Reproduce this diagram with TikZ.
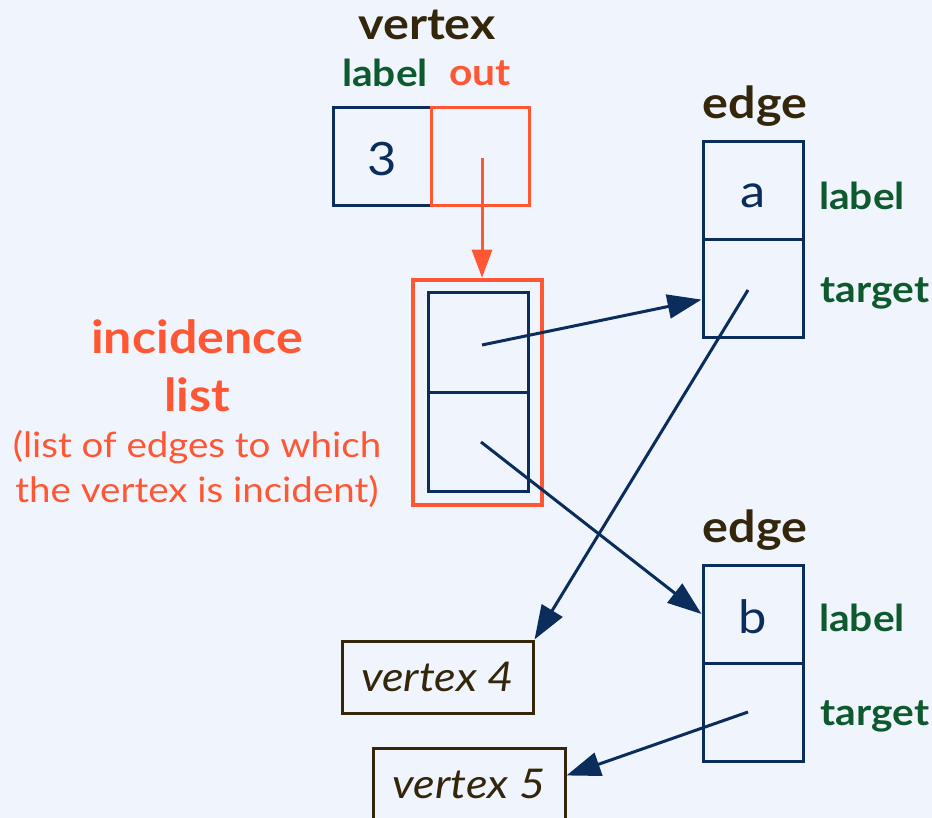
\documentclass[tikz,border=0pt]{standalone}
\usepackage{fontspec}
\setmainfont{Lato}[FakeStretch=1.1]
\usetikzlibrary{arrows.meta,calc}
\definecolor{bg}{HTML}{F0F5FD}
\definecolor{navy}{HTML}{0B2D5B}
\definecolor{orng}{HTML}{FF5733}
\definecolor{grn}{HTML}{0E5A2E}
\definecolor{brn}{HTML}{33260A}
\tikzset{
  cell/.style={draw=navy, line width=3pt, minimum width=98pt, minimum height=98pt,
    inner sep=0pt, text=navy, font=\fontsize{46}{50}\selectfont},
  ocell/.style={cell, draw=orng},
  vbox/.style={draw=brn, line width=3pt, minimum width=191pt, minimum height=72pt,
    inner sep=0pt, text=brn, font=\fontsize{41}{44}\selectfont\itshape},
  title/.style={text=brn, font=\fontsize{44}{46}\selectfont\bfseries},
  fld/.style={text=grn, font=\fontsize{37}{40}\selectfont\bfseries},
  nv/.style={draw=navy, line width=3pt, -{Triangle[length=34pt,width=24pt]}},
  ov/.style={draw=orng, line width=3pt, -{Triangle[length=28pt,width=20pt]}},
}
\begin{document}
\begin{tikzpicture}[x=1pt,y=-1pt]
\fill[bg] (0,0) rectangle (932,818);
\useasboundingbox (0,0) rectangle (932,818);
\clip (0,0) rectangle (932,818);

% vertex record
\node[title] (vt) at (427,25) {vertex};
\node[fld] (vlab) at (385,73) {label};
\node[fld, text=orng] (vout) at (480,73) {out};
\node[cell, text height=38pt, text depth=0pt] (vl) at (382,157) {3};
\node[ocell] (vo) at (480,157) {};
\coordinate (vodot) at (482,158);

% incidence list
\node[draw=orng, line width=4.5pt, minimum width=129pt, minimum height=225pt, inner sep=0pt] (inc) at (477.5,392.5) {};
\node[cell, minimum width=100pt, minimum height=99pt] (l1) at (478,342.5) {};
\node[cell, minimum width=100pt, minimum height=99pt] (l2) at (478,441.5) {};
\coordinate (l1dot) at (482,345);
\coordinate (l2dot) at (481,442);

\node[text=orng, font=\fontsize{45.5}{48}\selectfont\bfseries] (incl) at (197,337) {incidence};
\node[text=orng, font=\fontsize{45.5}{48}\selectfont\bfseries] (incl2) at (197,395) {list};
\node[text=orng, font=\fontsize{35}{38}\selectfont] (incp1) at (197,447) {(list of edges to which};
\node[text=orng, font=\fontsize{35}{38}\selectfont] (incp2) at (197,491) {the vertex is incident)};

% edge a
\node[title] (et1) at (755,106) {edge};
\node[cell, minimum width=100pt, text height=34pt, text depth=0pt] (ea1) at (753,191) {a};
\node[cell, minimum width=100pt] (ea2) at (753,289) {};
\node[fld] (eal) at (862,196) {label};
\node[fld] (eat) at (875,293) {target};
\coordinate (ea2dot) at (748,290);

% edge b
\node[title] (et2) at (755,530) {edge};
\node[cell, minimum width=100pt, text height=39pt, text depth=0pt] (eb1) at (753,614) {b};
\node[cell, minimum width=100pt] (eb2) at (753,712) {};
\node[fld] (ebl) at (862,618) {label};
\node[fld] (ebt) at (875,716) {target};
\coordinate (eb2dot) at (748,712);

% target vertices
\node[vbox] (v4) at (437.5,677) {vertex 4};
\node[vbox, minimum width=192pt] (v5) at (469,784) {vertex 5};

% connectors
\draw[ov] (vodot) -- (vodot |- inc.north);
\draw[nv] (l1dot) -- (ea2);
\draw[nv] (l2dot) -- (eb1.west);
\draw[nv] (ea2dot) -- (v4.north east);
\draw[nv] (eb2dot) -- (v5.5);
\end{tikzpicture}
\end{document}
